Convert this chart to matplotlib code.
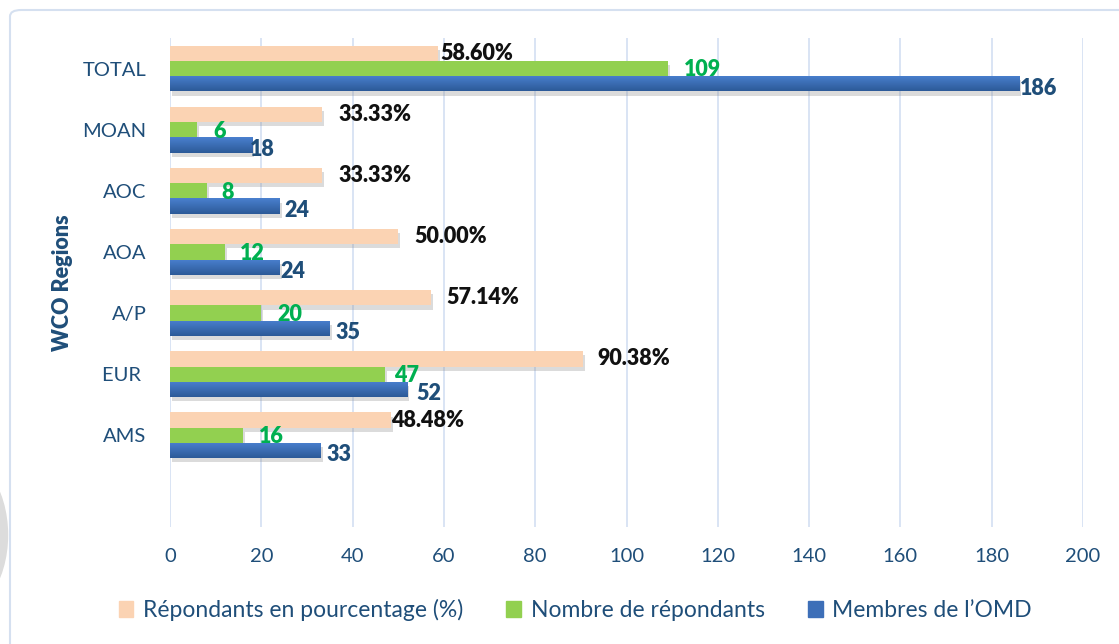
import numpy as np
import matplotlib

matplotlib.use("Agg")
import matplotlib.pyplot as plt
import matplotlib.patheffects as pe
from matplotlib.patches import FancyBboxPatch, Ellipse, Patch

plt.rcParams["font.family"] = ["Lato", "DejaVu Sans"]

# data, listed bottom to top
REGIONS = ["AMS", "EUR ", "A/P", "AOA", "AOC", "MOAN", "TOTAL"]
PCT_RESP = [48.48, 90.38, 57.14, 50.00, 33.33, 33.33, 58.60]
N_RESP = [16, 47, 20, 12, 8, 6, 109]
MEMBERS = [33, 52, 35, 24, 24, 18, 186]
LEGEND = ["Répondants en pourcentage (%)", "Nombre de répondants", "Membres de l\u2019OMD"]

PEACH = "#FBD3B3"
GREEN = "#92D050"
BLUE = "#3D6FB8"
NAVY = "#1F4E79"
LBL_GREEN = "#00B050"
GRID = "#D7E2F3"

# manual label nudges (pixels), like the hand-placed labels in the original
OFF_PCT = [0, 15, 16, 16, 16, 16, 3]
OFF_N = [16, 9, 16, 15, 15, 16, 16]
OFF_M = [6, 9, 6, 1, 5, -2, 1]

W, H = 1119, 644
fig = plt.figure(figsize=(W / 100, H / 100), dpi=100)
ax = fig.add_axes([170 / W, 1 - 527 / H, (1083 - 170) / W, (527 - 38) / H])

y = np.arange(len(REGIONS))
h = 0.25
shadow = [pe.SimplePatchShadow(offset=(1.5, -3), shadow_rgbFace="#8a8a8a", alpha=0.3), pe.Normal()]

b_pct = ax.barh(y + h, PCT_RESP, h, color=PEACH, zorder=3)
b_n = ax.barh(y, N_RESP, h, color=GREEN, zorder=3)
b_m = ax.barh(y - h, MEMBERS, h, color=BLUE, zorder=3)
for bars in (b_pct, b_n, b_m):
    for p in bars:
        p.set_path_effects(shadow)

# vertical gradient on the blue bars
grad = np.linspace(0, 1, 64).reshape(-1, 1)
cmap = matplotlib.colors.LinearSegmentedColormap.from_list("b", ["#2C5A98", "#4A80CF"])
for p in b_m:
    x0, y0 = p.get_x(), p.get_y()
    im = ax.imshow(grad, extent=[x0, x0 + p.get_width(), y0, y0 + p.get_height()],
                   origin="lower", cmap=cmap, aspect="auto", zorder=4)
    im.set_clip_path(p)
ax.set_xlim(0, 200)
ax.set_ylim(-1.5, len(REGIONS) - 0.5)

lbl = dict(textcoords="offset points", va="center", ha="left", fontsize=15.5,
           fontweight="heavy", zorder=6)
for i in range(len(REGIONS)):
    ax.annotate(f"{PCT_RESP[i]:.2f}%", (PCT_RESP[i], y[i] + h),
                xytext=(OFF_PCT[i] * 0.72, 0), color="#111111", **lbl)
    ax.annotate(f"{N_RESP[i]}", (N_RESP[i], y[i]),
                xytext=(OFF_N[i] * 0.72, -1), color=LBL_GREEN, **lbl)
    ax.annotate(f"{MEMBERS[i]}", (MEMBERS[i], y[i] - h),
                xytext=(OFF_M[i] * 0.72, -3), color=NAVY, **lbl)

ax.set_xticks(np.arange(0, 201, 20))
ax.set_yticks(y)
ax.set_yticklabels(REGIONS)
ax.tick_params(axis="both", length=0, labelsize=14.5, labelcolor=NAVY)
ax.tick_params(axis="x", pad=15)
ax.tick_params(axis="y", pad=17)
ax.grid(axis="x", color=GRID, lw=1.3, zorder=0)
ax.set_axisbelow(True)
for s in ax.spines.values():
    s.set_visible(False)
ax.set_ylabel("WCO Regions", fontsize=15.5, fontweight="heavy", color=NAVY, labelpad=7)

handles = [Patch(color=c) for c in (PEACH, GREEN, BLUE)]
fig.legend(handles, LEGEND, loc="center", bbox_to_anchor=(0.514, 1 - 610 / H), ncol=3,
           frameon=False, fontsize=16.5, labelcolor=NAVY, handlelength=0.65,
           handleheight=0.65, handletextpad=0.4, columnspacing=1.9)

# chart frame and the grey shape at the left edge
fig.patches.append(FancyBboxPatch((10 / W, -0.1), 1.1, 1.1 - 10 / H,
                                  boxstyle="round,pad=0,rounding_size=0.01",
                                  transform=fig.transFigure, fill=False,
                                  ec="#D5E0F0", lw=1.5, zorder=0))
fig.patches.append(Ellipse((-55 / W, 1 - 535 / H), 125 / W, 175 / H,
                           transform=fig.transFigure, color="#DCDCDC", zorder=0))

fig.savefig("out.png", dpi=100)
